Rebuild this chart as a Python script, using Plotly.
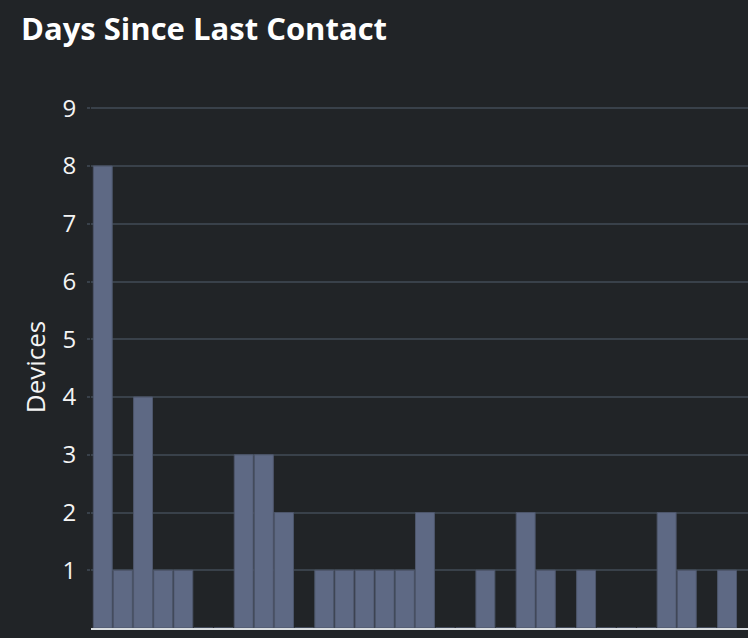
import plotly.graph_objects as go

days = list(range(32))
devices = [8, 1, 4, 1, 1, 0, 0, 3, 3, 2, 0, 1, 1, 1, 1, 1, 2, 0, 0, 1, 0, 2, 1, 0, 1, 0, 0, 0, 2, 1, 0, 1]
y_ticks = [1, 2, 3, 4, 5, 6, 7, 8, 9]

BG = "#212427"
GRID = "#39414a"
BAR = "#5e6984"
FONT = "Open Sans"

fig = go.Figure(
    go.Bar(
        x=days,
        y=devices,
        width=0.94,
        marker=dict(color=BAR, line=dict(color="#4d566b", width=1)),
        hoverinfo="skip",
    )
)

fig.update_layout(
    width=748,
    height=638,
    paper_bgcolor=BG,
    plot_bgcolor=BG,
    margin=dict(l=91, r=0, t=106, b=10),
    showlegend=False,
    title=dict(
        text="<b>Days Since Last Contact</b>",
        font=dict(family=FONT, size=31, color="#ffffff"),
        x=21 / 748,
        xanchor="left",
        xref="container",
        y=1 - 29 / 638,
        yanchor="middle",
        yref="container",
    ),
    xaxis=dict(
        range=[-0.584, 32.04],
        showticklabels=False,
        showgrid=False,
        zeroline=False,
        showline=True,
        linecolor="#d9dde0",
        linewidth=2,
        ticks="",
        fixedrange=True,
    ),
    yaxis=dict(
        range=[0, 9.04],
        tickvals=y_ticks,
        showgrid=True,
        gridcolor=GRID,
        gridwidth=2,
        zeroline=False,
        showline=False,
        ticks="outside",
        ticklen=3,
        tickcolor=GRID,
        tickwidth=2,
        ticklabelstandoff=6,
        tickfont=dict(family=FONT, size=24, color="#f4f4f4", weight=500),
        title=dict(
            text="Devices",
            font=dict(family=FONT, size=26, color="#f4f4f4"),
            standoff=9,
        ),
        fixedrange=True,
    ),
)

fig.write_html("out.html")
